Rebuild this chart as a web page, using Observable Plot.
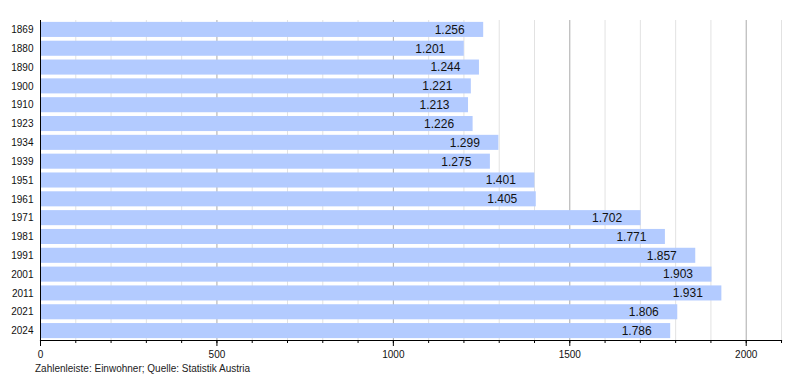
<!DOCTYPE html>
<html>
<head>
<meta charset="utf-8">
<script src="https://cdn.jsdelivr.net/npm/d3@7"></script>
<script src="https://cdn.jsdelivr.net/npm/@observablehq/plot@0.6"></script>
<style>
  body { margin: 0; background: #fff; font-family: "Liberation Sans", Arial, sans-serif; }
  #caption { font-size: 10px; color: #222; margin: 0 0 0 35px; line-height: 14px; }
</style>
</head>
<body>
<div id="chart"></div>
<div id="caption">Zahlenleiste: Einwohner; Quelle: Statistik Austria</div>
<script>
const years = ["1869","1880","1890","1900","1910","1923","1934","1939","1951","1961","1971","1981","1991","2001","2011","2021","2024"];
const population = [1256,1201,1244,1221,1213,1226,1299,1275,1401,1405,1702,1771,1857,1903,1931,1806,1786];
const majorTicks = [0, 500, 1000, 1500, 2000];
const minorTicks = d3.range(0, 2101, 100);

const data = years.map((y, i) => ({year: y, value: population[i]}));
const fmt = v => d3.format(",")(v).replace(/,/g, ".");

const chart = Plot.plot({
  width: 800,
  height: 362,
  marginLeft: 40,
  marginRight: 19,
  marginTop: 20,
  marginBottom: 22,
  style: {fontFamily: "'Liberation Sans', Arial, sans-serif", fontSize: "10px", color: "#111"},
  x: {domain: [0, 2100]},
  y: {domain: years, paddingInner: 0.2, paddingOuter: 0.1, round: false},
  marks: [
    Plot.ruleX(minorTicks.filter(d => d % 500 !== 0), {stroke: "#e2e2e2"}),
    Plot.ruleX(majorTicks.filter(d => d > 0), {stroke: "#aaaaaa"}),
    Plot.barX(data, {x: "value", y: "year", fill: "#b3cbff"}),
    Plot.text(data, {x: "value", y: "year", text: d => fmt(d.value), textAnchor: "end", dx: -19, fontSize: 12, fill: "#111"}),
    Plot.axisY({tickSize: 0, tickPadding: 7, label: null, fontSize: 10}),
    Plot.axisX(minorTicks, {tickSize: 3, tickFormat: () => "", label: null, stroke: "#000"}),
    Plot.axisX(majorTicks, {tickSize: 6, tickPadding: 4, tickFormat: d => String(d), label: null, fontSize: 10, stroke: "#000"}),
    Plot.ruleX([0], {stroke: "#000"}),
    Plot.frame({anchor: "bottom", stroke: "#000", strokeWidth: 1.2})
  ]
});
document.getElementById("chart").appendChild(chart);
</script>
</body>
</html>
